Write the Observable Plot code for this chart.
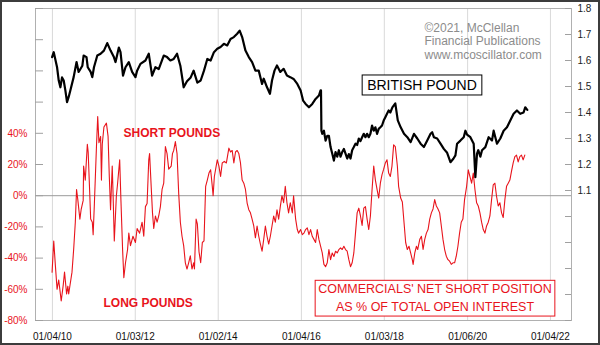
<!DOCTYPE html>
<html><head><meta charset="utf-8">
<script src="https://cdn.jsdelivr.net/npm/d3@7"></script>
<script src="https://cdn.jsdelivr.net/npm/@observablehq/plot@0.6"></script>
<style>
html,body{margin:0;padding:0;background:#fff;}
#wrap{position:relative;width:600px;height:345px;overflow:hidden;background:#fff;}
#border{position:absolute;left:0;top:0;width:600px;height:345px;box-sizing:border-box;border:2px solid #3c3c3c;pointer-events:none;}
</style></head><body>
<div id="wrap"><div id="chart"></div><div id="border"></div></div>
<script>
// British pound (USD per GBP), decimal-year time stamps
const gbpYears = [
2010.00,2010.04,2010.12,2010.16,2010.20,2010.24,2010.28,2010.32,2010.36,2010.40,2010.44,2010.52,2010.59,2010.64,2010.73,2010.76,2010.83,2010.86,2010.93,2010.97,
2011.01,2011.09,2011.17,2011.25,2011.33,2011.41,2011.49,2011.53,2011.61,2011.65,2011.71,2011.77,2011.85,2011.93,
2012.01,2012.05,2012.13,2012.25,2012.33,2012.41,2012.49,2012.57,2012.69,2012.77,2012.85,2012.93,
2013.01,2013.09,2013.17,2013.25,2013.34,2013.41,2013.50,2013.58,2013.66,2013.74,2013.82,2013.90,2013.98,
2014.06,2014.14,2014.22,2014.30,2014.38,2014.46,2014.52,2014.58,2014.66,2014.74,2014.82,2014.90,2014.98,
2015.06,2015.10,2015.18,2015.25,2015.30,2015.36,2015.42,2015.50,2015.58,2015.66,2015.74,2015.82,2015.91,2015.99,
2016.05,2016.11,2016.19,2016.27,2016.35,2016.43,2016.47,2016.48,2016.49,2016.51,2016.55,2016.59,2016.63,2016.67,2016.71,2016.75,2016.79,2016.83,2016.87,2016.91,2016.95,2016.99,
2017.03,2017.07,2017.11,2017.15,2017.19,2017.23,2017.27,2017.31,2017.35,2017.39,2017.43,2017.47,2017.51,2017.55,2017.59,2017.63,2017.67,2017.71,2017.75,2017.79,2017.83,2017.87,2017.91,2017.95,2017.99,
2018.03,2018.07,2018.11,2018.15,2018.20,2018.27,2018.33,2018.40,2018.48,2018.56,2018.64,2018.72,2018.80,2018.88,2018.96,
2019.04,2019.12,2019.16,2019.20,2019.28,2019.36,2019.44,2019.52,2019.60,2019.67,2019.72,2019.76,2019.84,2019.92,2019.96,
2020.00,2020.08,2020.16,2020.20,2020.24,2020.27,2020.32,2020.36,2020.44,2020.52,2020.60,2020.64,2020.68,2020.72,2020.80,2020.88,2020.96,
2021.04,2021.12,2021.20,2021.28,2021.36,2021.40,2021.45];
const gbpValues = [
1.613,1.632,1.574,1.523,1.497,1.535,1.523,1.485,1.440,1.460,1.485,1.536,1.594,1.556,1.580,1.619,1.613,1.574,1.556,1.536,
1.574,1.619,1.626,1.638,1.667,1.638,1.613,1.594,1.650,1.632,1.542,1.574,1.594,1.556,
1.536,1.561,1.587,1.600,1.626,1.542,1.574,1.567,1.619,1.613,1.600,1.606,
1.626,1.580,1.497,1.520,1.535,1.561,1.515,1.523,1.561,1.606,1.600,1.632,1.645,
1.652,1.664,1.658,1.683,1.690,1.703,1.715,1.690,1.638,1.613,1.594,1.561,1.561,
1.510,1.530,1.497,1.472,1.523,1.561,1.581,1.556,1.568,1.542,1.536,1.529,1.510,1.485,
1.446,1.433,1.420,1.433,1.452,1.465,1.485,1.485,1.330,1.318,1.330,1.292,1.310,1.310,1.267,1.242,1.215,1.248,1.230,1.255,1.230,1.248,
1.260,1.242,1.223,1.240,1.223,1.255,1.267,1.280,1.275,1.300,1.290,1.305,1.318,1.305,1.318,1.305,1.318,1.350,1.330,1.343,1.318,1.337,1.343,1.350,1.369,
1.382,1.395,1.408,1.400,1.420,1.435,1.370,1.343,1.318,1.305,1.286,1.318,1.300,1.280,1.267,
1.292,1.318,1.324,1.305,1.300,1.280,1.260,1.245,1.209,1.222,1.235,1.280,1.292,1.305,1.330,
1.315,1.305,1.280,1.151,1.242,1.255,1.230,1.255,1.267,1.305,1.292,1.330,1.305,1.280,1.300,1.330,1.343,
1.369,1.395,1.408,1.395,1.400,1.420,1.410];

// Commercials' net short position as % of total open interest
const cotYears = [
2010.00,2010.04,2010.08,2010.12,2010.16,2010.22,2010.27,2010.30,2010.35,2010.38,2010.40,2010.48,2010.52,2010.56,2010.59,2010.62,2010.67,2010.70,2010.75,2010.76,2010.80,2010.85,2010.87,2010.91,2010.93,2010.97,2010.99,
2011.02,2011.07,2011.10,2011.13,2011.17,2011.19,2011.21,2011.25,2011.31,2011.35,2011.38,2011.41,2011.45,2011.47,2011.50,2011.55,2011.58,2011.63,2011.66,2011.70,2011.73,2011.77,2011.82,2011.85,2011.89,2011.95,
2012.01,2012.05,2012.11,2012.17,2012.21,2012.25,2012.29,2012.33,2012.35,2012.39,2012.42,2012.45,2012.49,2012.53,2012.57,2012.61,2012.65,2012.69,2012.73,2012.77,2012.81,2012.87,2012.90,2012.93,2012.97,
2013.01,2013.05,2013.09,2013.13,2013.17,2013.21,2013.25,2013.29,2013.33,2013.37,2013.41,2013.43,2013.47,2013.50,2013.54,2013.58,2013.62,2013.66,2013.70,2013.74,2013.78,2013.82,2013.86,2013.88,2013.91,2013.98,
2014.02,2014.06,2014.10,2014.15,2014.20,2014.26,2014.30,2014.34,2014.38,2014.42,2014.46,2014.50,2014.54,2014.58,2014.62,2014.66,2014.70,2014.74,2014.78,2014.82,2014.86,2014.90,2014.94,2014.98,
2015.02,2015.06,2015.10,2015.14,2015.18,2015.22,2015.26,2015.30,2015.34,2015.38,2015.42,2015.46,2015.50,2015.54,2015.58,2015.62,2015.66,2015.70,2015.74,2015.79,2015.82,2015.87,2015.91,2015.94,2015.99,
2016.03,2016.07,2016.11,2016.15,2016.19,2016.23,2016.27,2016.31,2016.35,2016.39,2016.43,2016.47,2016.51,2016.55,2016.59,2016.63,2016.67,2016.71,2016.75,2016.79,2016.83,2016.87,2016.91,2016.95,2016.99,
2017.03,2017.07,2017.11,2017.15,2017.19,2017.23,2017.27,2017.31,2017.35,2017.39,2017.43,2017.47,2017.51,2017.55,2017.59,2017.63,2017.67,2017.71,2017.75,2017.79,2017.83,2017.87,2017.91,2017.95,2017.99,
2018.03,2018.07,2018.11,2018.15,2018.19,2018.23,2018.27,2018.32,2018.35,2018.40,2018.44,2018.48,2018.52,2018.56,2018.60,2018.64,2018.68,2018.70,2018.74,2018.78,2018.81,2018.86,2018.90,2018.94,2018.98,
2019.02,2019.06,2019.10,2019.14,2019.18,2019.22,2019.26,2019.30,2019.34,2019.38,2019.42,2019.46,2019.50,2019.54,2019.58,2019.62,2019.66,2019.70,2019.74,2019.78,2019.82,2019.86,2019.90,2019.94,2019.99,
2020.03,2020.07,2020.11,2020.15,2020.19,2020.23,2020.27,2020.31,2020.35,2020.39,2020.43,2020.47,2020.51,2020.55,2020.59,2020.63,2020.67,2020.71,2020.75,2020.79,2020.83,2020.87,2020.91,2020.95,2020.99,
2021.03,2021.07,2021.11,2021.15,2021.19,2021.23,2021.27,2021.31,2021.35,2021.39];
const cotValues = [
-49,-29,-45,-60,-54,-67.5,-57,-49,-63,-58,-63,-49,-34.5,-17,4,-2.5,-15,-9,-3,19,10,33,28,0,-15,-17,-25,
-5,31.5,50.7,34,38,10,33,44,46.5,38,12,-9,19,1.5,-29,0,8,23,-3,-34.5,-52.6,-43,-34.5,-24,-32,-26,
-30,-21,-24,-17,-26,-7,-5,23,27,5,-11,-21,-13,-17,-13,-7,4,8,31.5,27,17,19,27,29,34.7,
27,1.5,-17,-26,-32,-43,-47,-43,-38.5,-47,-43,-47,-15,-18,-36,-43,-30,-29,6,10,14.5,16.6,6,0,12.3,23,
19,12.3,21,22,21,30.5,28,29,21,28,29,27,21,10,8,4,-4.7,-9,-11,-15,-19.4,-27,-19.4,-26,
-31,-35.6,-28,-19.4,-26,-31,-26,-19.4,-13,-17,-9,-15,-7,0,-4.5,6,-4.5,-11,-4.5,-11,0,-15,-21.7,-24,-21.7,
-25,-24,-21.7,-20.6,-25,-21.7,-26,-28,-30,-21.7,-28,-32.4,-36.7,-44,-45.5,-43,-34.5,-41,-36.7,-39,-35.6,-36.7,-34.5,-33.4,-34.5,
-32.4,-34.5,-35.6,-41,-45.5,-43,-36.7,-24,-11,-8,-13,-19,-8,-7,-15,-21.7,-13,4,19,10,4,-1.5,8,13.5,17,
21,23,14.5,12.3,19,32.6,31.5,19,6,-1.5,-4,-17,-30,-34.5,-32.4,-36.7,-41,-44,-36.7,-32.4,-34.5,-28,-26,-34.5,-28,
-24,-21.7,-15,-11,-8.5,-2.5,-6.6,-8.5,-11,-19.4,-28,-34.5,-38.8,-41,-42,-44,-43,-43,-38.8,-32.4,-24,-17,-15,-2.5,6,
16.6,12.3,8,14.5,4,-4.5,-6.6,-11,-17,-21.7,-24,-19.4,-17,-13,-2.5,7,8,-0.5,-6.6,-4.5,-11,-14,-2.5,6,8,
10,15.7,21,25,26,21.7,25,26,23,26];

const xTickDates = ["2010-01-04","2012-01-03","2014-01-02","2016-01-04","2018-01-03","2020-01-06","2022-01-04"];
const xTickLabels = ["01/04/10","01/03/12","01/02/14","01/04/16","01/03/18","01/06/20","01/04/22"];
const pctTicks = [-80,-60,-40,-20,0,20,40,60,80,100,120];
const pctLabels = ["-80%","-60%","-40%","-20%","0%","20%","40%","","","",""];
const gbpTicks = [0.6,0.7,0.8,0.9,1.0,1.1,1.2,1.3,1.4,1.5,1.6,1.7,1.8];
const gbpTickLabels = ["","","","","","1.1","1.2","1.3","1.4","1.5","1.6","1.7","1.8"];
const creditText = "©2021, McClellan\nFinancial Publications\nwww.mcoscillator.com";
const seriesTitle = "BRITISH POUND";
const shortLabel = "SHORT POUNDS";
const longLabel = "LONG POUNDS";
const cotTitle = "COMMERCIALS' NET SHORT POSITION\nAS % OF TOTAL OPEN INTEREST";

// helpers
function yearToDate(t){const y=Math.floor(t);const s=Date.UTC(y,0,1),e=Date.UTC(y+1,0,1);return new Date(s+(t-y)*(e-s));}
// right axis (GBP 0.6..1.8) shares the left axis (-80%..120%)
const gbpToPct = v => -80 + (v - 0.6) * (200 / 1.2);

const gbp = gbpYears.map((t,i)=>({date: yearToDate(t), pct: gbpToPct(gbpValues[i])}));
const cot = cotYears.map((t,i)=>({date: yearToDate(t), pct: cotValues[i]}));
const xTicks = xTickDates.map(s => new Date(s + "T00:00:00Z"));
const gbpTickPos = gbpTicks.map(gbpToPct);

const RED = "#e8141c";
const W = 600, H = 345, ML = 35, MR = 29, MT = 8, MB = 25;
const PW = W - ML - MR;

const chart = Plot.plot({
  width: W, height: H,
  marginLeft: ML, marginRight: MR, marginTop: MT, marginBottom: MB,
  style: {fontFamily: "'Liberation Sans', Arial, sans-serif", fontSize: "10px", background: "#fff", overflow: "visible"},
  x: {type: "utc", domain: [yearToDate(2009.60), yearToDate(2022.516)]},
  y: {domain: [-80, 120]},
  marks: [
    Plot.ruleX(xTicks, {stroke: "#d9d9d9", strokeWidth: 1}),
    Plot.ruleY([0], {stroke: "#9a9a9a", strokeWidth: 1}),
    Plot.frame({stroke: "#b0b0b0"}),
    Plot.tickY(pctTicks, {stroke: "#a0a0a0", insetRight: PW - 8}),
    Plot.tickY(gbpTickPos, {stroke: "#a0a0a0", insetLeft: PW - 6}),
    Plot.axisY({anchor: "left", ticks: pctTicks, tickSize: 0, tickPadding: 8, label: null,
      tickFormat: d => pctLabels[pctTicks.indexOf(d)] ?? "", fill: RED}),
    Plot.axisY({anchor: "right", ticks: gbpTickPos, tickSize: 0, tickPadding: 6, label: null,
      tickFormat: d => { const i = gbpTickPos.findIndex(p => Math.abs(p - d) < 1e-6); return i < 0 ? "" : gbpTickLabels[i]; }, fill: "#222"}),
    Plot.axisX({ticks: xTicks, tickSize: 0, tickPadding: 12, label: null,
      tickFormat: d => { const i = xTicks.findIndex(t => +t === +d); return i < 0 ? "" : xTickLabels[i]; }, fill: "#111"}),
    Plot.line(cot, {x: "date", y: "pct", stroke: RED, strokeWidth: 1.1}),
    Plot.line(gbp, {x: "date", y: "pct", stroke: "#000", strokeWidth: 2.2}),
    Plot.text([creditText], {text: d => d, frameAnchor: "top-left", dx: 389, dy: 14, textAnchor: "start", lineAnchor: "top",
      fill: "#8c8c8c", fontSize: 12, lineHeight: 1.12}),
    Plot.text([seriesTitle], {text: d => d, frameAnchor: "top-left", dx: 386.5, dy: 77, textAnchor: "middle", lineAnchor: "middle",
      fill: "#000", fontSize: 14}),
    Plot.text([shortLabel], {text: d => d, frameAnchor: "top-left", dx: 88, dy: 125, textAnchor: "start", lineAnchor: "middle",
      fill: RED, fontSize: 12, fontWeight: "bold"}),
    Plot.text([longLabel], {text: d => d, frameAnchor: "top-left", dx: 68, dy: 295, textAnchor: "start", lineAnchor: "middle",
      fill: RED, fontSize: 12, fontWeight: "bold"}),
    Plot.text([cotTitle], {text: d => d, frameAnchor: "top-left", dx: 399.5, dy: 288, textAnchor: "middle", lineAnchor: "middle",
      fill: RED, fontSize: 12.5, lineHeight: 1.42})
  ]
});
document.getElementById("chart").appendChild(chart);

// boxes around the two boxed captions
function boxAround(prefix, padX, padY, stroke){
  d3.select(chart).selectAll("text").filter(function(){ return this.textContent.startsWith(prefix); }).each(function(){
    const b = this.getBBox();
    const r = document.createElementNS("http://www.w3.org/2000/svg", "rect");
    r.setAttribute("x", b.x - padX); r.setAttribute("y", b.y - padY);
    r.setAttribute("width", b.width + 2 * padX); r.setAttribute("height", b.height + 2 * padY);
    r.setAttribute("fill", "#fff"); r.setAttribute("stroke", stroke); r.setAttribute("stroke-width", 1);
    const tr = this.getAttribute("transform"); if (tr) r.setAttribute("transform", tr);
    this.parentNode.insertBefore(r, this);
  });
}
boxAround("BRITISH", 5, 2, "#000");
boxAround("COMMERCIALS", 3, 2, RED);
</script>
</body></html>
